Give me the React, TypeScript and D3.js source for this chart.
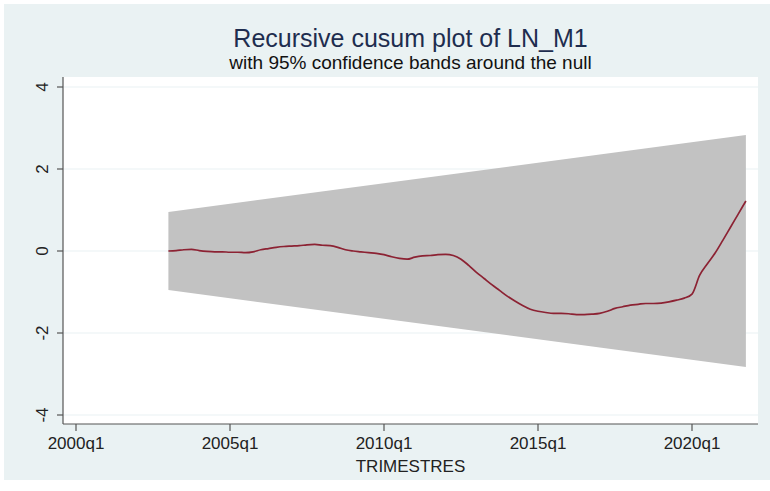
import React from 'react';
import * as d3 from 'd3';

// cusum quarterly series, 2003q1 .. 2021q4
const startYear = 2003;
const endYear = 2021;
const quarters: string[] = [];
for (let y = startYear; y <= endYear; y++) {
  for (let q = 1; q <= 4; q++) quarters.push(`${y}q${q}`);
}

const cusumValues = [
  0.0, 0.01, 0.03, 0.04, 0.01, -0.01, -0.02, -0.02,
  -0.03, -0.03, -0.04, -0.02, 0.03, 0.06, 0.09, 0.11,
  0.12, 0.13, 0.15, 0.16, 0.14, 0.13, 0.09, 0.03,
  0.0, -0.02, -0.04, -0.06, -0.09, -0.14, -0.18, -0.2,
  -0.15, -0.12, -0.11, -0.09, -0.08, -0.11, -0.2, -0.35,
  -0.52, -0.67, -0.82, -0.96, -1.1, -1.22, -1.33, -1.42,
  -1.47, -1.5, -1.52, -1.52, -1.53, -1.55, -1.55, -1.54,
  -1.52, -1.47, -1.4, -1.36, -1.32, -1.3, -1.28, -1.28,
  -1.27, -1.24, -1.2, -1.15, -1.05, -0.59, -0.31, -0.05,
  0.26, 0.58, 0.9, 1.22,
];

// 95% band: straight lines between first and last quarter
const bandDates = ['2003q1', '2021q4'];
const bandUpper = [0.95, 2.83];
const bandLower = [-0.95, -2.83];

const xTickLabels = ['2000q1', '2005q1', '2010q1', '2015q1', '2020q1'];
const yTickValues = [-4, -2, 0, 2, 4];

const titleText = 'Recursive cusum plot of LN_M1';
const subtitleText = 'with 95% confidence bands around the null';
const xTitle = 'TRIMESTRES';

const width = 770;
const height = 491;
const plot = { left: 63, right: 758, top: 77, bottom: 424 };
const font = '"Liberation Sans", Arial, sans-serif';

// "2003q2" -> 2003.25
const toYear = (s: string) => {
  const [y, q] = s.split('q');
  return +y + (+q - 1) / 4;
};

export default function App() {
  const x = d3.scaleLinear().domain([2000, 2020]).range([76, 692]);
  const y = d3.scaleLinear().domain([-4, 4]).range([415, 87]);

  const bandData = bandDates.map((d, i) => ({ t: toYear(d), lo: bandLower[i], hi: bandUpper[i] }));
  const band = d3.area<{ t: number; lo: number; hi: number }>()
    .x(d => x(d.t))
    .y0(d => y(d.lo))
    .y1(d => y(d.hi));

  const lineData = quarters.map((q, i) => ({ t: toYear(q), v: cusumValues[i] }));
  const line = d3.line<{ t: number; v: number }>()
    .x(d => x(d.t))
    .y(d => y(d.v))
    .curve(d3.curveMonotoneX);

  const cx = (plot.left + plot.right) / 2;

  return (
    <svg
      width={width}
      height={height}
      style={{ position: 'absolute', left: 0, top: 0, display: 'block' }}
    >
      <rect x={0} y={0} width={width} height={height} fill="#ffffff" />
      <rect x={4} y={4} width={width - 4} height={476} fill="#eaf2f3" />
      <rect
        x={plot.left}
        y={plot.top}
        width={plot.right - plot.left}
        height={plot.bottom - plot.top}
        fill="#ffffff"
      />

      {/* grid */}
      {yTickValues.map(v => (
        <line
          key={`g${v}`}
          x1={plot.left}
          x2={plot.right}
          y1={y(v)}
          y2={y(v)}
          stroke="#eaf2f3"
          strokeWidth={1.2}
        />
      ))}

      {/* confidence band */}
      <path d={band(bandData) || ''} fill="#c2c2c2" />

      {/* cusum line */}
      <path d={line(lineData) || ''} fill="none" stroke="#8c2233" strokeWidth={1.7} />

      {/* axes */}
      <line x1={plot.left} x2={plot.left} y1={plot.top} y2={plot.bottom} stroke="#555" strokeWidth={1.2} />
      <line x1={plot.left} x2={plot.right} y1={plot.bottom} y2={plot.bottom} stroke="#555" strokeWidth={1.2} />

      {yTickValues.map(v => (
        <g key={`y${v}`}>
          <line x1={plot.left - 6} x2={plot.left} y1={y(v)} y2={y(v)} stroke="#555" strokeWidth={1.2} />
          <text
            transform={`translate(${plot.left - 15},${y(v)}) rotate(-90)`}
            textAnchor="middle"
            fontFamily={font}
            fontSize={17}
            fill="#222"
          >
            {v}
          </text>
        </g>
      ))}

      {xTickLabels.map(s => (
        <g key={s}>
          <line x1={x(toYear(s))} x2={x(toYear(s))} y1={plot.bottom} y2={plot.bottom + 7} stroke="#555" strokeWidth={1.2} />
          <text
            x={x(toYear(s))}
            y={449}
            textAnchor="middle"
            fontFamily={font}
            fontSize={17}
            fill="#222"
          >
            {s}
          </text>
        </g>
      ))}

      <text x={cx} y={472} textAnchor="middle" fontFamily={font} fontSize={17} fill="#222">
        {xTitle}
      </text>

      <text x={cx} y={47} textAnchor="middle" fontFamily={font} fontSize={25} fill="#1e2d4f">
        {titleText}
      </text>
      <text x={cx} y={69} textAnchor="middle" fontFamily={font} fontSize={19} fill="#111">
        {subtitleText}
      </text>
    </svg>
  );
}
